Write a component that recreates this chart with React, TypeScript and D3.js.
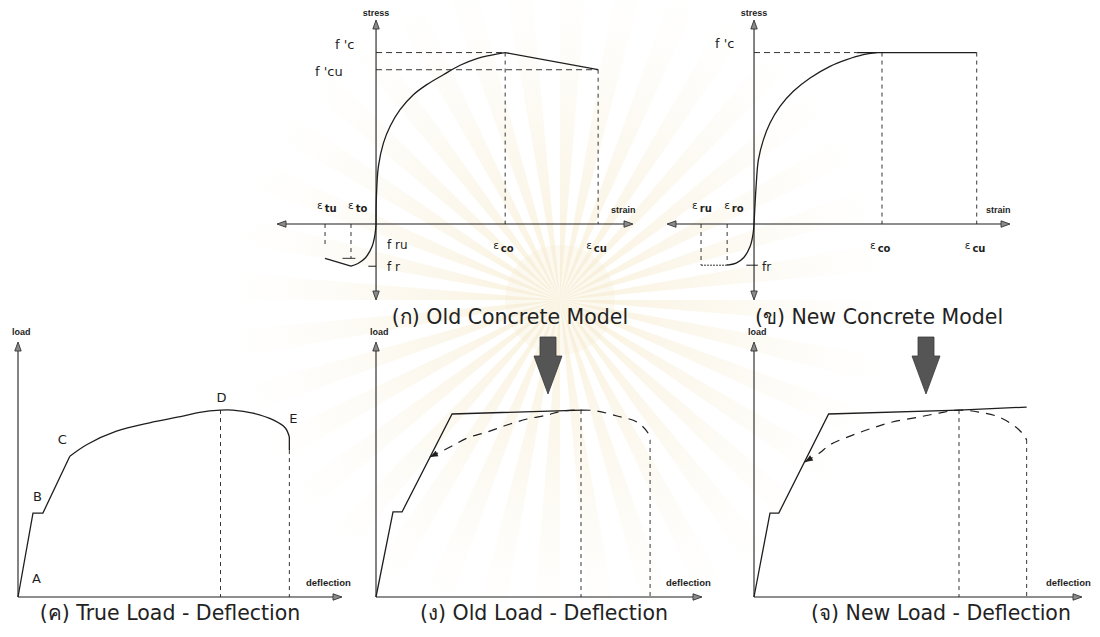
import React from "react";
import * as d3 from "d3";

type Pt = [number, number];

// ---------- (ก) Old concrete model : strain / ε_co , stress / f'c ----------
const oldCompression: Pt[] = [
  [0, 0], [0.002, 0.14], [0.018, 0.335], [0.057, 0.472], [0.109, 0.57],
  [0.186, 0.667], [0.289, 0.754], [0.393, 0.813], [0.522, 0.871],
  [0.651, 0.926], [0.781, 0.965], [0.884, 0.984], [1, 1],
];
const oldSoftening: Pt[] = [[1, 1], [1.72, 0.9]];
const oldTension: Pt[] = [
  [0, 0], [-0.008, -0.06], [-0.03, -0.13], [-0.08, -0.195], [-0.14, -0.23], [-0.194, -0.246],
];
const oldTensionSoftening: Pt[] = [[-0.194, -0.246], [-0.395, -0.2]];
const oldStrainMarks = [-0.395, -0.194, 1, 1.72]; // ε_tu, ε_to, ε_co, ε_cu
const oldStressMarks = [1, 0.9, -0.2, -0.246]; // f'c, f'cu, f_ru, f_r

// ---------- (ข) New concrete model ----------
const newCompression: Pt[] = [
  [0, 0], [0.016, 0.218], [0.034, 0.374], [0.073, 0.491], [0.125, 0.589],
  [0.203, 0.686], [0.307, 0.774], [0.438, 0.852], [0.594, 0.92],
  [0.724, 0.959], [0.854, 0.988], [0.958, 1],
];
const newPlateau: Pt[] = [[0.8, 1], [1.74, 1]];
const newTension: Pt[] = [
  [0, 0], [-0.008, -0.06], [-0.03, -0.13], [-0.08, -0.195], [-0.14, -0.228], [-0.21, -0.24],
];
const newStrainMarks = [-0.414, -0.21, 1, 1.74]; // ε_ru, ε_ro, ε_co, ε_cu
const newStressMarks = [1, -0.24]; // f'c, f_r

// ---------- (ค) True load - deflection : deflection / Δ_D , load / P_D ----------
const trueAC: Pt[] = [[0, 0], [0.074, 0.449], [0.123, 0.449], [0.256, 0.753]];
const trueCE: Pt[] = [
  [0.256, 0.753], [0.341, 0.816], [0.486, 0.887], [0.65, 0.932], [0.814, 0.967],
  [0.897, 0.988], [1, 1], [1.06, 1.0], [1.16, 0.984], [1.26, 0.947], [1.32, 0.904], [1.34, 0.856],
];
const trueDrop: Pt[] = [[1.34, 0.856], [1.34, 0.786]];
const pointNames = ["A", "B", "C", "D", "E"];
const pointCoords: Pt[] = [[0, 0], [0.074, 0.449], [0.256, 0.753], [1, 1], [1.34, 0.856]];

// ---------- (ง) Old load - deflection ----------
const oldResponse: Pt[] = [[0, 0], [0.083, 0.455], [0.127, 0.455], [0.371, 0.979], [1.005, 1.0]];
const oldTrueTrace: Pt[] = [
  [0.263, 0.749], [0.361, 0.802], [0.444, 0.85], [0.541, 0.882], [0.639, 0.92],
  [0.737, 0.952], [0.834, 0.973], [0.912, 0.995], [1.005, 1.0], [1.078, 0.995],
  [1.176, 0.968], [1.273, 0.936], [1.327, 0.877], [1.337, 0.84],
];

// ---------- (จ) New load - deflection ----------
const newResponse: Pt[] = [[0, 0], [0.078, 0.449], [0.121, 0.449], [0.364, 0.979], [1, 1], [1.33, 1.016]];
const newTrueTrace: Pt[] = [
  [0.248, 0.722], [0.32, 0.77], [0.369, 0.813], [0.481, 0.866], [0.578, 0.904],
  [0.675, 0.936], [0.806, 0.963], [0.903, 0.984], [1, 1], [1.097, 0.989],
  [1.194, 0.963], [1.277, 0.909], [1.316, 0.866], [1.33, 0.84],
];

const INK = "#1e1e1e";
const FONT = "'DejaVu Sans', Verdana, sans-serif";
const SMALL = "'Liberation Sans', Arial, sans-serif";
const TITLE_SIZE = 20.5;

type Scale = d3.ScaleLinear<number, number>;
function makeLine(x: Scale, y: Scale) {
  return d3.line<Pt>().x((d) => x(d[0])).y((d) => y(d[1]));
}
function makeCurve(x: Scale, y: Scale) {
  return d3.line<Pt>().x((d) => x(d[0])).y((d) => y(d[1])).curve(d3.curveCatmullRom.alpha(0.5));
}

type Dir = "up" | "down" | "left" | "right";
function Head({ x, y, dir }: { x: number; y: number; dir: Dir }) {
  const L = 9, w = 3.2;
  let pts: number[][];
  if (dir === "up") pts = [[x, y], [x - w, y + L], [x + w, y + L]];
  else if (dir === "down") pts = [[x, y], [x - w, y - L], [x + w, y - L]];
  else if (dir === "left") pts = [[x, y], [x + L, y - w], [x + L, y + w]];
  else pts = [[x, y], [x - L, y - w], [x - L, y + w]];
  return <polygon points={pts.map((p) => p.join(",")).join(" ")} fill="#8a8a8a" stroke="#333" strokeWidth={0.9} />;
}

function Eps({ x, y, sub }: { x: number; y: number; sub: string }) {
  return (
    <text x={x} y={y} fontFamily={FONT} fontSize={10.5} fill={INK}>
      ε<tspan dx={2} dy={2.5} fontSize={10} fontWeight="bold">{sub}</tspan>
    </text>
  );
}

function Watermark() {
  const cx = 560, cy = 300, R = 330, n = 36;
  const arc = d3.arc<any>();
  const wedges = d3.range(n).map((i) => {
    const a0 = (i * 2 * Math.PI) / n;
    return arc({ innerRadius: 0, outerRadius: R, startAngle: a0, endAngle: a0 + (Math.PI / n) * 0.95 }) as string;
  });
  return (
    <g transform={`translate(${cx},${cy})`}>
      <defs>
        <radialGradient id="wm" cx={0} cy={0} r={R} gradientUnits="userSpaceOnUse">
          <stop offset="0" stopColor="#f0dca6" stopOpacity={0.4} />
          <stop offset="0.45" stopColor="#f3e4bd" stopOpacity={0.26} />
          <stop offset="1" stopColor="#f7eed6" stopOpacity={0} />
        </radialGradient>
      </defs>
      {wedges.map((d, i) => <path key={i} d={d} fill="url(#wm)" />)}
      <circle r={55} fill="#f5ead0" opacity={0.3} />
    </g>
  );
}

function BigArrow({ x, top }: { x: number; top: number }) {
  const shaft = 8, head = 14, headTop = top + 19, tip = top + 57;
  const pts = [
    [x - shaft, top], [x + shaft, top], [x + shaft, headTop], [x + head, headTop],
    [x, tip], [x - head, headTop], [x - shaft, headTop],
  ];
  return <polygon points={pts.map((p) => p.join(",")).join(" ")} fill="#555" stroke="#3a3a3a" strokeWidth={0.8} />;
}

// ---------- concrete stress-strain panels ----------
function OldConcrete() {
  const x = d3.scaleLinear().domain([-0.767, 1.99]).range([277, 633]);
  const y = d3.scaleLinear().domain([-0.443, 1.19]).range([300, 20]);
  const line = makeLine(x, y);
  const curve = makeCurve(x, y);
  const [etu, eto, eco, ecu] = oldStrainMarks;
  const [fc, fcu, fru, fr] = oldStressMarks;
  const x0 = x(0), y0 = y(0);
  return (
    <g>
      <line x1={x(-0.767) + 8} x2={x(1.99) - 8} y1={y0} y2={y0} stroke={INK} strokeWidth={1.1} />
      <line x1={x0} x2={x0} y1={y(1.19) + 8} y2={y(-0.443) - 8} stroke={INK} strokeWidth={1.1} />
      <Head x={x(-0.767)} y={y0} dir="left" />
      <Head x={x(1.99)} y={y0} dir="right" />
      <Head x={x0} y={y(1.19)} dir="up" />
      <Head x={x0} y={y(-0.443)} dir="down" />
      <g fill="none" stroke={INK} strokeWidth={0.9} strokeDasharray="6,4">
        <path d={line([[0, fc], [eco, fc]])!} />
        <path d={line([[0, fcu], [ecu, fcu]])!} />
        <path d={line([[eco, fc], [eco, 0]])!} strokeDasharray="4,4" />
        <path d={line([[ecu, fcu], [ecu, 0]])!} strokeDasharray="4,4" />
        <path d={line([[etu, 0], [etu, -0.14]])!} strokeDasharray="4,4" />
        <path d={line([[eto, 0], [eto, fru]])!} strokeDasharray="4,4" />
        <path d={line([[-0.26, fru], [-0.16, fru]])!} strokeDasharray="none" />
      </g>
      <path d={line([[-0.06, fr], [0, fr]])!} stroke={INK} strokeWidth={1} />
      <g fill="none" stroke={INK} strokeWidth={1.3}>
        <path d={curve(oldCompression)!} />
        <path d={line(oldSoftening)!} />
        <path d={curve(oldTension)!} />
        <path d={line(oldTensionSoftening)!} />
      </g>
      <text x={x0} y={16} textAnchor="middle" fontFamily={SMALL} fontWeight="bold" fontSize={9} fill={INK}>stress</text>
      <text x={x(1.99) - 22} y={y0 - 11} fontFamily={SMALL} fontWeight="bold" fontSize={9} fill={INK}>strain</text>
      <text x={335} y={y(fc) - 4} fontFamily={FONT} fontSize={13} fill={INK}>f 'c</text>
      <text x={315} y={y(fcu) + 6} fontFamily={FONT} fontSize={13} fill={INK}>f 'cu</text>
      <Eps x={x(etu) - 8} y={y0 - 15} sub="tu" />
      <Eps x={x(eto) - 3} y={y0 - 15} sub="to" />
      <Eps x={x(eco) - 12} y={y0 + 25} sub="co" />
      <Eps x={x(ecu) - 12} y={y0 + 25} sub="cu" />
      <text x={x0 + 11} y={y0 + 25} fontFamily={FONT} fontSize={12} fill={INK}>f ru</text>
      <text x={x0 + 11} y={y(fr) + 5} fontFamily={FONT} fontSize={12} fill={INK}>f r</text>
      <text x={510} y={324} textAnchor="middle" fontFamily={FONT} fontSize={TITLE_SIZE} fill="#222">(ก) Old Concrete Model</text>
    </g>
  );
}

function NewConcrete() {
  const x = d3.scaleLinear().domain([-0.68, 2.0]).range([667, 1010]);
  const y = d3.scaleLinear().domain([-0.443, 1.19]).range([300, 20]);
  const line = makeLine(x, y);
  const curve = makeCurve(x, y);
  const [eru, ero, eco, ecu] = newStrainMarks;
  const [fc, fr] = newStressMarks;
  const x0 = x(0), y0 = y(0);
  return (
    <g>
      <line x1={x(-0.68) + 8} x2={x(2.0) - 8} y1={y0} y2={y0} stroke={INK} strokeWidth={1.1} />
      <line x1={x0} x2={x0} y1={y(1.19) + 8} y2={y(-0.443) - 8} stroke={INK} strokeWidth={1.1} />
      <Head x={x(-0.68)} y={y0} dir="left" />
      <Head x={x(2.0)} y={y0} dir="right" />
      <Head x={x0} y={y(1.19)} dir="up" />
      <Head x={x0} y={y(-0.443)} dir="down" />
      <g fill="none" stroke={INK} strokeWidth={0.9} strokeDasharray="6,4">
        <path d={line([[0, fc], [0.8, fc]])!} />
        <path d={line([[eco, fc], [eco, 0]])!} strokeDasharray="4,4" />
        <path d={line([[ecu, fc], [ecu, 0]])!} strokeDasharray="4,4" />
        <path d={line([[eru, 0], [eru, fr]])!} strokeDasharray="4,4" />
        <path d={line([[ero, 0], [ero, fr]])!} strokeDasharray="4,4" />
        <path d={line([[eru, fr], [ero, fr]])!} strokeDasharray="2,1" />
      </g>
      <path d={line([[-0.06, fr], [0.03, fr]])!} stroke={INK} strokeWidth={1} />
      <g fill="none" stroke={INK} strokeWidth={1.3}>
        <path d={curve(newCompression)!} />
        <path d={line(newPlateau)!} />
        <path d={curve(newTension)!} />
      </g>
      <text x={x0} y={16} textAnchor="middle" fontFamily={SMALL} fontWeight="bold" fontSize={9} fill={INK}>stress</text>
      <text x={x(2.0) - 24} y={y0 - 11} fontFamily={SMALL} fontWeight="bold" fontSize={9} fill={INK}>strain</text>
      <text x={715} y={y(fc) - 5} fontFamily={FONT} fontSize={13} fill={INK}>f 'c</text>
      <Eps x={x(eru) - 9} y={y0 - 15} sub="ru" />
      <Eps x={x(ero) - 3} y={y0 - 15} sub="ro" />
      <Eps x={x(eco) - 12} y={y0 + 25} sub="co" />
      <Eps x={x(ecu) - 12} y={y0 + 25} sub="cu" />
      <text x={x0 + 8} y={y(fr) + 6} fontFamily={FONT} fontSize={12} fill={INK}>fr</text>
      <text x={879} y={324} textAnchor="middle" fontFamily={FONT} fontSize={TITLE_SIZE} fill="#222">(ข) New Concrete Model</text>
    </g>
  );
}

// ---------- load - deflection panels ----------
function LoadAxes({ x, y, xMax, yMax }: { x: Scale; y: Scale; xMax: number; yMax: number }) {
  const x0 = x(0), y0 = y(0);
  return (
    <g>
      <line x1={x0} x2={x(xMax) - 8} y1={y0} y2={y0} stroke={INK} strokeWidth={1.1} />
      <line x1={x0} x2={x0} y1={y0} y2={y(yMax) + 8} stroke={INK} strokeWidth={1.1} />
      <Head x={x(xMax)} y={y0} dir="right" />
      <Head x={x0} y={y(yMax)} dir="up" />
      <text x={x0 - 6} y={y(yMax) - 7} fontFamily={SMALL} fontWeight="bold" fontSize={9} fill={INK}>load</text>
      <text x={x(xMax) - 36} y={y0 - 11} fontFamily={SMALL} fontWeight="bold" fontSize={9.5} fill={INK}>deflection</text>
    </g>
  );
}

function TrueLoad() {
  const x = d3.scaleLinear().domain([0, 1.6]).range([18, 342]);
  const y = d3.scaleLinear().domain([0, 1.364]).range([597, 342]);
  const line = makeLine(x, y);
  const curve = makeCurve(x, y);
  const offs: Pt[] = [[14, -14], [0, -12], [-12, -12], [-4, -8], [0, -14]];
  return (
    <g>
      <LoadAxes x={x} y={y} xMax={1.6} yMax={1.364} />
      <g fill="none" stroke={INK} strokeWidth={0.9} strokeDasharray="4,4">
        <path d={line([[1, 1], [1, 0]])!} />
        <path d={line([[1.34, 0.786], [1.34, 0]])!} />
      </g>
      <g fill="none" stroke={INK} strokeWidth={1.3}>
        <path d={line(trueAC)!} />
        <path d={curve(trueCE)!} />
        <path d={line(trueDrop)!} />
      </g>
      {pointNames.map((name, i) => (
        <text key={name} x={x(pointCoords[i][0]) + offs[i][0]} y={y(pointCoords[i][1]) + offs[i][1]}
          fontFamily={FONT} fontSize={13} fill={INK}>{name}</text>
      ))}
      <text x={170} y={620} textAnchor="middle" fontFamily={FONT} fontSize={TITLE_SIZE} fill="#222">(ค) True Load - Deflection</text>
    </g>
  );
}

function ModelLoad({ ox, xMaxPx, solid, trace, eX, title, titleX, arrowX }: {
  ox: number; xMaxPx: number; solid: Pt[]; trace: Pt[]; eX: number; title: string; titleX: number; arrowX: number;
}) {
  const x = d3.scaleLinear().domain([0, 1]).range([ox, ox + 205]);
  const y = d3.scaleLinear().domain([0, 1.364]).range([597, 342]);
  const xMax = x.invert(xMaxPx);
  const line = makeLine(x, y);
  const curve = makeCurve(x, y);
  const last = trace[trace.length - 1];
  const start = trace[0];
  const next = trace[1];
  const ang = Math.atan2(y(start[1]) - y(next[1]), x(start[0]) - x(next[0]));
  const hx = x(start[0]), hy = y(start[1]);
  const L = 8, w = 3;
  const ca = Math.cos(ang), sa = Math.sin(ang);
  const head = [
    [hx, hy],
    [hx - L * ca + w * sa, hy - L * sa - w * ca],
    [hx - L * ca - w * sa, hy - L * sa + w * ca],
  ];
  return (
    <g>
      <LoadAxes x={x} y={y} xMax={xMax} yMax={1.364} />
      <g fill="none" stroke={INK} strokeWidth={0.9} strokeDasharray="4,4">
        <path d={line([[1, 1], [1, 0]])!} />
        <path d={line([[eX, last[1]], [eX, 0]])!} />
      </g>
      <path d={line(solid)!} fill="none" stroke={INK} strokeWidth={1.3} />
      <path d={curve(trace)!} fill="none" stroke={INK} strokeWidth={1.2} strokeDasharray="9,7" />
      <polygon points={head.map((p) => p.join(",")).join(" ")} fill={INK} />
      <BigArrow x={arrowX} top={337} />
      <text x={titleX} y={620} textAnchor="middle" fontFamily={FONT} fontSize={TITLE_SIZE} fill="#222">{title}</text>
    </g>
  );
}

export default function App() {
  return (
    <svg width={1100} height={637} viewBox="0 0 1100 637"
      style={{ position: "absolute", left: 0, top: 0, display: "block", background: "#ffffff" }}>
      <rect width={1100} height={637} fill="#ffffff" />
      <Watermark />
      <OldConcrete />
      <NewConcrete />
      <TrueLoad />
      <ModelLoad ox={376} xMaxPx={702} solid={oldResponse} trace={oldTrueTrace} eX={1.337}
        title="(ง) Old Load - Deflection" titleX={544} arrowX={548} />
      <ModelLoad ox={754} xMaxPx={1082} solid={newResponse} trace={newTrueTrace} eX={1.33}
        title="(จ) New Load - Deflection" titleX={941} arrowX={926} />
    </svg>
  );
}
